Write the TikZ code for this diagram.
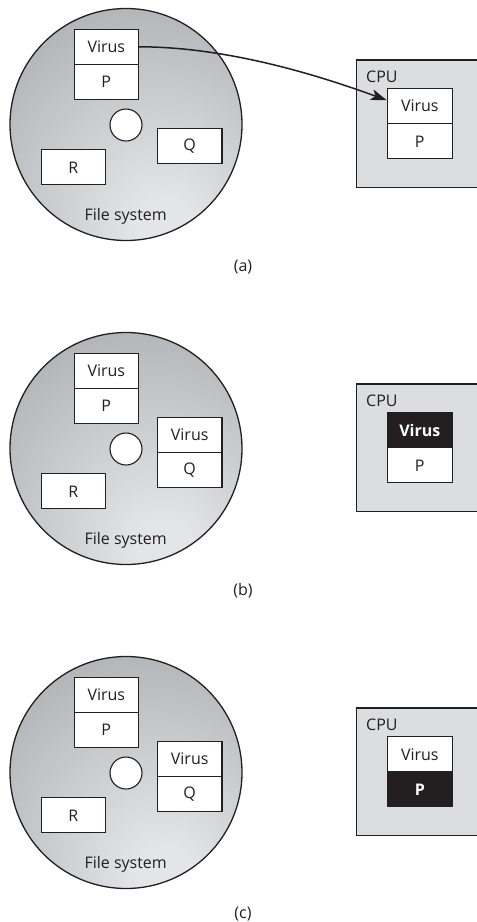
\documentclass[tikz,border=0pt]{standalone}
\usepackage{fontspec}
\setmainfont{Open Sans}
\usetikzlibrary{arrows.meta}
\definecolor{shlight}{HTML}{E4E5E7}
\definecolor{shdark}{HTML}{A3A4A7}
\definecolor{shdarker}{HTML}{9A9B9E}
\definecolor{cpufill}{HTML}{DCDDDF}
\definecolor{ink}{HTML}{231F20}
\pgfdeclareradialshading{diskshade}{\pgfpoint{9bp}{-24bp}}{color(0bp)=(shlight); color(6bp)=(shlight); color(50bp)=(shdark); color(80bp)=(shdarker)}
\tikzset{
  txt/.style={font=\fontsize{16}{18}\selectfont, text=ink},
  filebox/.style={draw=ink, line width=1.1pt, fill=white, minimum width=64.5pt, minimum height=35pt, inner sep=0pt, txt},
  blackbox/.style={filebox, fill=ink, text=white, font=\fontsize{16}{18}\selectfont\bfseries},
  disk/.style={draw=ink, line width=1.3pt, shading=diskshade},
  hole/.style={draw=ink, line width=1.1pt, fill=white, circle, minimum size=32pt, inner sep=0pt},
  cpubox/.style={draw=ink, line width=1.1pt, fill=cpufill},
  lbl/.style={txt, inner sep=0pt},
  flow/.style={draw=ink, line width=1.5pt, -{Stealth[length=16pt,width=11pt,inset=4pt]}}
}
\begin{document}
\begin{tikzpicture}[x=1pt,y=-1pt]
\useasboundingbox (0,0) rectangle (477,922);
\clip (0,0) rectangle (477,922);
% ---------- panel (a) ----------
\shade[disk] (126,124.5) circle[radius=116];
\node[hole] (holeA) at (126,125) {};
\node[filebox] (fvA) at (106.3,46.8) {Virus};
\node[filebox] (fpA) at (106.3,81.8) {P};
\node[filebox] (fqA) at (189.7,145.7) {Q};
\node[filebox] (frA) at (73.3,167.3) {R};
\node[lbl] (fsA) at (125.7,216.7) {File system};
\draw[cpubox] (356.7,60) rectangle (482,187.3);
\node[lbl, anchor=west] (cpuA) at (366,76.7) {CPU};
\node[filebox, minimum width=65pt, minimum height=35.5pt] (cvA) at (419.8,106.2) {Virus};
\node[filebox, minimum width=65pt, minimum height=35pt] (cpA) at (419.8,141.3) {P};
\draw[flow] (fvA.east) .. controls +(95,0) and +(-55,-20) .. ([yshift=6pt]cvA.west);
\node[lbl] (capA) at (243,267) {(a)};
% ---------- panel (b) ----------
\shade[disk] (126,448.5) circle[radius=116];
\node[hole] (holeB) at (126,449) {};
\node[filebox] (fvB) at (106.3,370.8) {Virus};
\node[filebox] (fpB) at (106.3,405.8) {P};
\node[filebox] (fvqB) at (189.7,434.7) {Virus};
\node[filebox] (fqB) at (189.7,469.7) {Q};
\node[filebox] (frB) at (73.3,491.3) {R};
\node[lbl] (fsB) at (125.7,540.7) {File system};
\draw[cpubox] (356.7,384) rectangle (482,511.3);
\node[lbl, anchor=west] (cpuB) at (366,400.7) {CPU};
\node[blackbox, minimum width=65pt, minimum height=35.5pt] (cvB) at (419.8,430.2) {Virus};
\node[filebox, minimum width=65pt, minimum height=35pt] (cpB) at (419.8,465.3) {P};
\node[lbl] (capB) at (243,591) {(b)};
% ---------- panel (c) ----------
\shade[disk] (126,772.5) circle[radius=116];
\node[hole] (holeC) at (126,773) {};
\node[filebox] (fvC) at (106.3,694.8) {Virus};
\node[filebox] (fpC) at (106.3,729.8) {P};
\node[filebox] (fvqC) at (189.7,758.7) {Virus};
\node[filebox] (fqC) at (189.7,793.7) {Q};
\node[filebox] (frC) at (73.3,815.3) {R};
\node[lbl] (fsC) at (125.7,864.7) {File system};
\draw[cpubox] (356.7,708) rectangle (482,835.3);
\node[lbl, anchor=west] (cpuC) at (366,724.7) {CPU};
\node[filebox, minimum width=65pt, minimum height=35.5pt] (cvC) at (419.8,754.2) {Virus};
\node[blackbox, minimum width=65pt, minimum height=35pt] (cpC) at (419.8,789.3) {P};
\node[lbl] (capC) at (243,914) {(c)};
\end{tikzpicture}
\end{document}
